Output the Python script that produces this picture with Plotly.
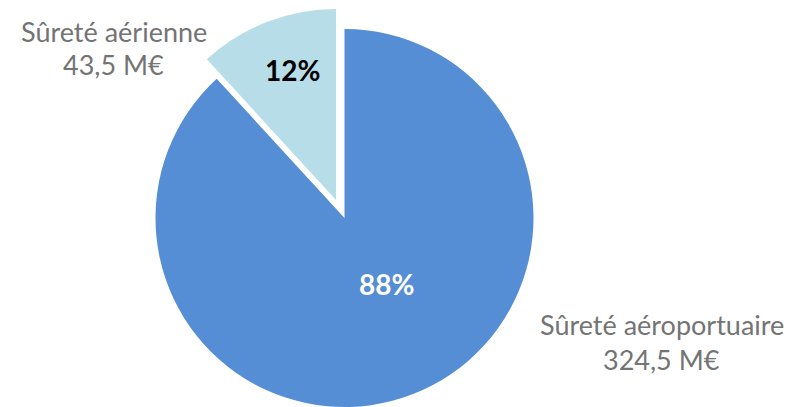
import plotly.graph_objects as go

# Data
categories = ["Sûreté aéroportuaire", "Sûreté aérienne"]
values_meur = [324.5, 43.5]
percent_labels = ["88%", "12%"]

PW, PH = 802, 407          # page / window size
OFF = 8                    # default body margin of the html page
W, H = PW - OFF, PH - OFF  # figure size
BLUE = "#558ED5"
LIGHT = "#B7DEE8"
GRAY = "#747474"
TRANSP = "rgba(0,0,0,0)"

def dom_x(cx, r):
    cx -= OFF
    return [max(0, (cx - r) / W), min(1, (cx + r) / W)]

def dom_y(top, bottom):
    top -= OFF
    bottom -= OFF
    return [max(0, 1 - bottom / H), min(1, 1 - top / H)]

fig = go.Figure()

# main slice (big)
fig.add_trace(go.Pie(
    labels=categories, values=values_meur, sort=False, direction="clockwise",
    rotation=0, textinfo="none", hoverinfo="label+value",
    marker=dict(colors=[BLUE, TRANSP], line=dict(width=0)),
    domain=dict(x=dom_x(344.5, 189), y=dom_y(29, 407)),
    showlegend=False,
))
# exploded slice (small)
fig.add_trace(go.Pie(
    labels=categories, values=values_meur, sort=False, direction="clockwise",
    rotation=0, textinfo="none", hoverinfo="label+value",
    marker=dict(colors=[TRANSP, LIGHT], line=dict(width=0)),
    domain=dict(x=dom_x(336, 191), y=dom_y(9, 391)),
    showlegend=False,
))

def fmt(v):
    return f"{v:.1f}".replace(".", ",") + " M€"

ann = []
def add(text, x, y, color, size, bold=False):
    ann.append(dict(
        text=f"<b>{text}</b>" if bold else text,
        x=(x - OFF) / W, y=1 - (y - OFF) / H,
        xref="paper", yref="paper", showarrow=False,
        xanchor="center", yanchor="middle",
        font=dict(family="Lato", size=size, color=color),
    ))

# outside labels
add(categories[1], 114, 31, GRAY, 27)
add(fmt(values_meur[1]), 114, 65, GRAY, 27)
add(categories[0], 662, 324, GRAY, 27)
add(fmt(values_meur[0]), 661, 359, GRAY, 27)
# percentages
add(percent_labels[1], 292, 70, "#000000", 28, bold=True)
add(percent_labels[0], 386, 284, "#FFFFFF", 28, bold=True)

fig.update_layout(
    width=W, height=H, margin=dict(l=0, r=0, t=0, b=0),
    paper_bgcolor="white", plot_bgcolor="white",
    annotations=ann,
)

fig.write_html("out.html")
